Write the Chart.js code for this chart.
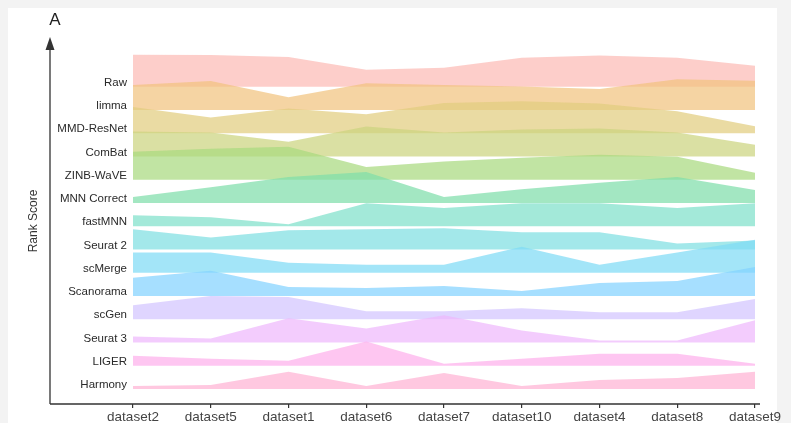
<!DOCTYPE html>
<html>
<head>
<meta charset="utf-8">
<script src="https://cdn.jsdelivr.net/npm/chart.js@4/dist/chart.umd.min.js"></script>
<style>
  html, body { margin: 0; padding: 0; background: #f3f3f3; }
  #wrap { position: relative; width: 791px; height: 423px; overflow: hidden; }
  #panel { position: absolute; left: 8px; top: 8px; width: 769px; height: 415px; background: #ffffff; }
  #c { position: absolute; left: 0; top: 0; }
</style>
</head>
<body>
<div id="wrap">
  <div id="panel"></div>
  <canvas id="c" width="791" height="423"></canvas>
</div>
<script>
// Benchmark datasets along the x axis
const datasetNames = ['dataset2', 'dataset5', 'dataset1', 'dataset6', 'dataset7',
                      'dataset10', 'dataset4', 'dataset8', 'dataset9'];

// Integration methods, top ridge first
const methods = ['Raw', 'limma', 'MMD-ResNet', 'ComBat', 'ZINB-WaVE', 'MNN Correct',
                 'fastMNN', 'Seurat 2', 'scMerge', 'Scanorama', 'scGen', 'Seurat 3',
                 'LIGER', 'Harmony'];

// Rank score (0-1) of each method on each dataset
const scoreRaw       = [0.97, 0.96, 0.90, 0.52, 0.58, 0.88, 0.95, 0.88, 0.64];
const scoreLimma     = [0.76, 0.88, 0.39, 0.81, 0.76, 0.71, 0.64, 0.93, 0.89];
const scoreMMDResNet = [0.80, 0.48, 0.75, 0.58, 0.92, 0.97, 0.90, 0.67, 0.21];
const scoreComBat    = [0.76, 0.73, 0.45, 0.91, 0.73, 0.82, 0.85, 0.73, 0.36];
const scoreZINBWaVE  = [0.85, 0.94, 1.00, 0.39, 0.55, 0.67, 0.76, 0.70, 0.21];
const scoreMNN       = [0.18, 0.48, 0.79, 0.94, 0.18, 0.42, 0.61, 0.79, 0.39];
const scoreFastMNN   = [0.33, 0.27, 0.06, 0.70, 0.55, 0.70, 0.70, 0.55, 0.70];
const scoreSeurat2   = [0.61, 0.36, 0.58, 0.61, 0.64, 0.52, 0.52, 0.18, 0.27];
const scoreScMerge   = [0.61, 0.61, 0.30, 0.24, 0.24, 0.79, 0.24, 0.61, 1.00];
const scoreScanorama = [0.55, 0.76, 0.27, 0.24, 0.30, 0.15, 0.39, 0.45, 0.88];
const scoreScGen     = [0.42, 0.70, 0.67, 0.24, 0.24, 0.33, 0.21, 0.21, 0.61];
const scoreSeurat3   = [0.18, 0.12, 0.73, 0.42, 0.82, 0.36, 0.06, 0.06, 0.67];
const scoreLIGER     = [0.30, 0.21, 0.15, 0.73, 0.06, 0.21, 0.36, 0.36, 0.06];
const scoreHarmony   = [0.09, 0.12, 0.52, 0.09, 0.48, 0.09, 0.27, 0.33, 0.52];

const scores = [scoreRaw, scoreLimma, scoreMMDResNet, scoreComBat, scoreZINBWaVE, scoreMNN,
                scoreFastMNN, scoreSeurat2, scoreScMerge, scoreScanorama, scoreScGen,
                scoreSeurat3, scoreLIGER, scoreHarmony];

// Hue palette, one colour per method
const palette = ['#F8766D', '#E38900', '#C49A00', '#99A800', '#53B400', '#00BC56', '#00C094',
                 '#00BFC4', '#00B6EB', '#06A4FF', '#A58AFF', '#DF70F8', '#FB61D7', '#FF66A8'];

const TINT = 0.5;          // share of the hue kept before blending with white
const FILL_ALPHA = 0.72;
const RIDGE_HEIGHT = 1.42; // a score of 1 spans this many rows
const nRows = methods.length;

function pastel(hex, tint, a) {
  const ch = [1, 3, 5].map(k => parseInt(hex.slice(k, k + 2), 16));
  const [r, g, b] = ch.map(c => Math.round(255 - tint * (255 - c)));
  return `rgba(${r},${g},${b},${a})`;
}

// Each method is a ridge sitting on its own baseline; lower ridges are painted over upper ones
const ridgeSets = methods.map((name, i) => {
  const base = nRows - 1 - i;
  return {
    label: name,
    data: scores[i].map(v => base + v * RIDGE_HEIGHT),
    fill: { value: base },
    backgroundColor: pastel(palette[i], TINT, FILL_ALPHA),
    borderColor: 'rgba(0,0,0,0)',
    borderWidth: 0,
    pointRadius: 0,
    tension: 0,
    order: nRows - 1 - i
  };
});

Chart.defaults.font.family = '"Liberation Sans", Arial, Helvetica, sans-serif';

// Axis lines with an arrow on the vertical axis, plus the panel letter
const axisDecor = {
  id: 'axisDecor',
  afterDraw(chart) {
    const { ctx, chartArea, scales: { x, y } } = chart;
    const axisX = 50;
    const axisY = y.getPixelForValue(y.min);
    ctx.save();
    ctx.strokeStyle = '#333';
    ctx.fillStyle = '#333';
    ctx.lineWidth = 1.3;
    ctx.beginPath();
    ctx.moveTo(axisX, axisY);
    ctx.lineTo(axisX, chartArea.top + 10);
    ctx.moveTo(axisX, axisY);
    ctx.lineTo(x.right + 5, axisY);
    ctx.stroke();
    ctx.beginPath();
    ctx.moveTo(axisX, chartArea.top - 1);
    ctx.lineTo(axisX - 4.5, chartArea.top + 12);
    ctx.lineTo(axisX + 4.5, chartArea.top + 12);
    ctx.closePath();
    ctx.fill();
    ctx.fillStyle = '#222';
    ctx.font = '17px "Liberation Sans", Arial, sans-serif';
    ctx.textAlign = 'center';
    ctx.textBaseline = 'middle';
    ctx.fillText('A', 55, 20);
    ctx.restore();
  }
};

new Chart(document.getElementById('c'), {
  type: 'line',
  data: { labels: datasetNames, datasets: ridgeSets },
  plugins: [axisDecor],
  options: {
    responsive: false,
    animation: false,
    devicePixelRatio: 1,
    layout: { padding: { left: 0, top: 38, right: 36, bottom: 0 } },
    plugins: { legend: { display: false }, tooltip: { enabled: false } },
    scales: {
      x: {
        type: 'category',
        offset: false,
        border: { display: false },
        grid: { display: true, drawOnChartArea: false, drawTicks: true, tickLength: 4, color: '#333', lineWidth: 1.2 },
        ticks: { color: '#444', font: { size: 13.5 }, padding: 1, maxRotation: 0, autoSkip: false },
        afterFit(scale) { scale.height = 19; }
      },
      y: {
        type: 'linear',
        min: -0.65,
        max: 15.1,
        border: { display: false },
        grid: { display: false, drawTicks: false },
        afterBuildTicks(scale) {
          scale.ticks = methods.map((m, i) => ({ value: nRows - 1 - i }));
        },
        ticks: {
          color: '#2a2a2a',
          font: { size: 11.5 },
          padding: 6,
          labelOffset: -4,
          autoSkip: false,
          callback: (v) => methods[nRows - 1 - v]
        },
        title: {
          display: true,
          text: 'Rank Score',
          color: '#333',
          font: { size: 12 },
          padding: { top: 26, bottom: 0 }
        },
        afterFit(scale) { scale.width = 133; }
      }
    }
  }
});
</script>
</body>
</html>
